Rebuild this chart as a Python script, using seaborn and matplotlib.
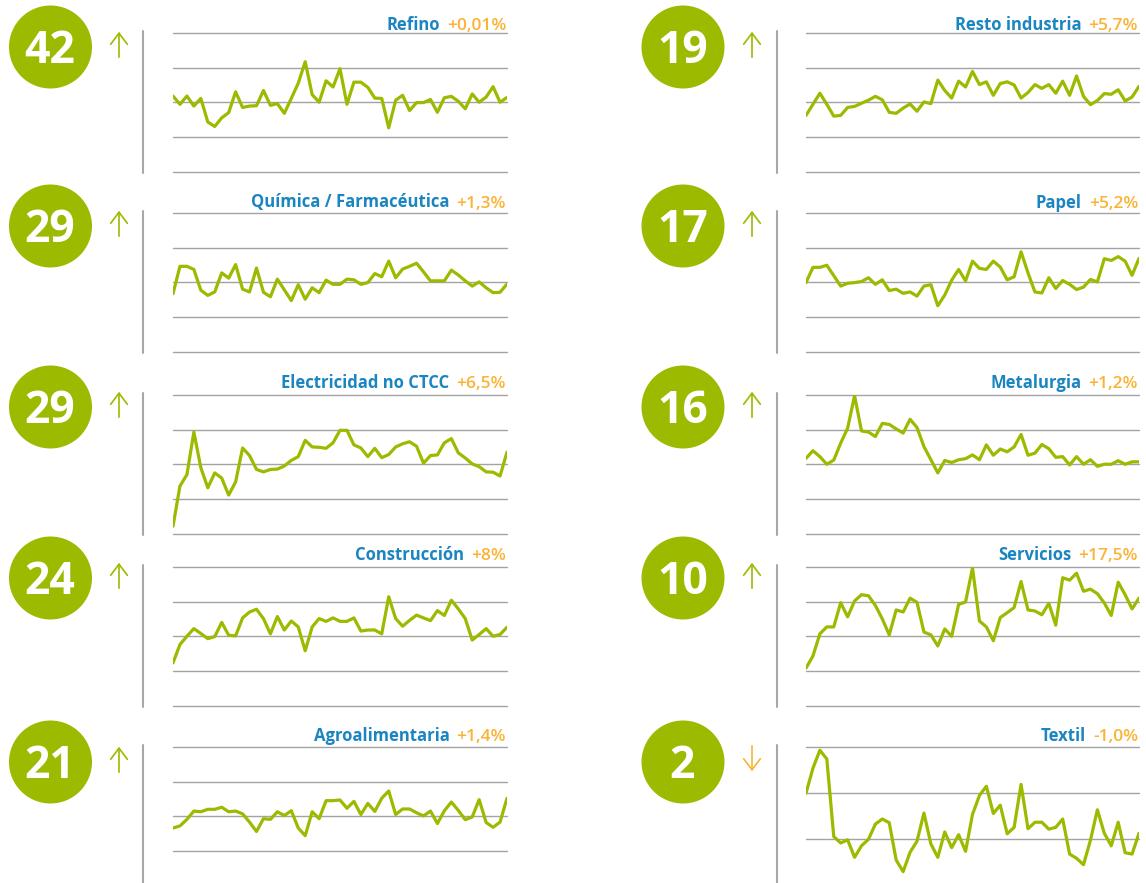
import numpy as np
import pandas as pd
import matplotlib.pyplot as plt
import matplotlib.patheffects as pe
from matplotlib import font_manager
from matplotlib.patches import Circle, FancyArrowPatch
import seaborn as sns

# sectores (columna izquierda y luego derecha)
sectores = ['Refino', 'Química / Farmacéutica', 'Electricidad no CTCC', 'Construcción',
            'Agroalimentaria', 'Resto industria', 'Papel', 'Metalurgia', 'Servicios', 'Textil']
variacion = ['+0,01%', '+1,3%', '+6,5%', '+8%', '+1,4%',
             '+5,7%', '+5,2%', '+1,2%', '+17,5%', '-1,0%']
numero = [42, 29, 29, 24, 21, 19, 17, 16, 10, 2]
tendencia = ['sube', 'sube', 'sube', 'sube', 'sube', 'sube', 'sube', 'sube', 'sube', 'baja']
n_lineas = [4, 4, 4, 4, 4, 4, 4, 4, 4, 3]

# series mensuales (en unidades de la rejilla)
refino = [2.18, 1.94, 2.18, 1.89, 2.11, 1.43, 1.30, 1.55, 1.70, 2.30, 1.85, 1.89, 1.90, 2.34, 1.91, 1.96, 1.68,
          2.11, 2.55, 3.17, 2.22, 2.00, 2.62, 2.44, 2.97, 1.94, 2.58, 2.58, 2.43, 2.12, 2.11, 1.26, 2.06, 2.20,
          1.76, 1.99, 1.99, 2.08, 1.71, 2.13, 2.17, 2.03, 1.81, 2.24, 2.00, 2.15, 2.45, 2.00, 2.14]
quimica = [1.67, 2.46, 2.46, 2.37, 1.77, 1.62, 1.72, 2.27, 2.12, 2.51, 1.80, 1.72, 2.41, 1.71, 1.58, 2.09, 1.78,
           1.47, 1.93, 1.51, 1.84, 1.70, 2.06, 1.94, 1.94, 2.09, 2.07, 1.94, 1.99, 2.25, 2.16, 2.61, 2.13, 2.38,
           2.46, 2.55, 2.30, 2.04, 2.04, 2.04, 2.35, 2.21, 2.04, 1.89, 2.01, 1.84, 1.70, 1.71, 1.95]
electricidad = [0.21, 1.37, 1.70, 2.93, 1.90, 1.32, 1.75, 1.60, 1.11, 1.49, 2.47, 2.25, 1.85, 1.78, 1.85, 1.86,
                1.95, 2.11, 2.22, 2.69, 2.50, 2.49, 2.46, 2.62, 2.98, 2.98, 2.56, 2.47, 2.22, 2.46, 2.19, 2.28,
                2.50, 2.59, 2.65, 2.52, 2.03, 2.25, 2.27, 2.62, 2.74, 2.33, 2.18, 2.01, 1.93, 1.78, 1.77, 1.66, 2.35]
construccion = [1.23, 1.76, 2.00, 2.22, 2.08, 1.93, 1.99, 2.40, 2.03, 2.01, 2.53, 2.70, 2.78, 2.51, 2.07, 2.57,
                2.18, 2.44, 2.27, 1.58, 2.27, 2.51, 2.43, 2.53, 2.43, 2.43, 2.53, 2.15, 2.18, 2.18, 2.07, 3.14,
                2.51, 2.29, 2.46, 2.61, 2.53, 2.45, 2.74, 2.60, 3.04, 2.79, 2.51, 1.89, 2.05, 2.22, 2.00, 2.05, 2.26]
agro = [1.66, 1.72, 1.91, 2.15, 2.13, 2.20, 2.20, 2.26, 2.13, 2.15, 2.07, 1.83, 1.56, 1.93, 1.91, 2.13, 2.02,
        2.16, 1.66, 1.44, 2.13, 1.93, 2.45, 2.45, 2.47, 2.23, 2.43, 2.05, 2.37, 2.14, 2.52, 2.73, 2.05, 2.21,
        2.21, 2.10, 2.01, 2.15, 1.79, 2.16, 2.41, 2.17, 1.90, 1.98, 2.48, 1.82, 1.68, 1.83, 2.52]
resto = [1.62, 1.94, 2.26, 1.94, 1.60, 1.62, 1.85, 1.88, 1.97, 2.06, 2.17, 2.07, 1.71, 1.68, 1.83, 1.95, 1.74,
         2.01, 1.96, 2.64, 2.34, 2.12, 2.61, 2.44, 2.89, 2.51, 2.59, 2.20, 2.54, 2.59, 2.50, 2.12, 2.28, 2.51,
         2.40, 2.51, 2.26, 2.61, 2.20, 2.76, 2.17, 1.93, 2.05, 2.25, 2.23, 2.36, 2.04, 2.15, 2.46]
papel = [1.99, 2.43, 2.43, 2.49, 2.19, 1.89, 1.97, 1.99, 2.02, 2.13, 1.94, 2.07, 1.76, 1.80, 1.68, 1.72, 1.60,
         1.89, 1.93, 1.32, 1.63, 2.06, 2.37, 2.04, 2.61, 2.40, 2.37, 2.61, 2.44, 2.07, 2.16, 2.88, 2.27, 1.72,
         1.69, 2.13, 1.82, 2.05, 1.94, 1.79, 1.86, 2.08, 2.01, 2.68, 2.63, 2.74, 2.61, 2.20, 2.69]
metalurgia = [2.17, 2.39, 2.22, 2.00, 2.12, 2.61, 3.04, 3.98, 2.96, 2.93, 2.80, 3.18, 3.15, 3.02, 2.90, 3.30,
              3.06, 2.51, 2.13, 1.75, 2.11, 2.05, 2.13, 2.16, 2.27, 2.13, 2.56, 2.26, 2.44, 2.36, 2.50, 2.86,
              2.26, 2.32, 2.57, 2.45, 2.20, 2.22, 1.98, 2.22, 2.00, 2.13, 1.94, 2.00, 2.00, 2.10, 2.00, 2.07, 2.07]
servicios = [1.08, 1.43, 2.07, 2.27, 2.27, 2.97, 2.56, 3.02, 3.20, 3.17, 2.89, 2.50, 2.04, 2.76, 2.70, 3.10,
             2.98, 2.12, 2.04, 1.72, 2.21, 2.00, 2.92, 2.99, 3.97, 2.44, 2.27, 1.87, 2.54, 2.68, 2.83, 3.58,
             2.76, 2.73, 2.62, 2.95, 2.32, 3.69, 3.62, 3.82, 3.30, 3.36, 3.23, 2.96, 2.60, 3.56, 3.20, 2.79, 3.10]
textil = [2.00, 2.54, 2.93, 2.74, 1.06, 0.92, 0.99, 0.61, 0.86, 1.00, 1.33, 1.44, 1.36, 0.55, 0.30, 0.72, 0.96,
          1.57, 0.90, 0.61, 1.16, 0.82, 1.10, 0.74, 1.54, 1.95, 2.15, 1.56, 1.74, 1.12, 1.26, 2.19, 1.23, 1.37,
          1.37, 1.22, 1.26, 1.44, 0.68, 0.59, 0.45, 0.98, 1.64, 1.13, 0.86, 1.37, 0.71, 0.68, 1.13]

series = [refino, quimica, electricidad, construccion, agro, resto, papel, metalurgia, servicios, textil]

verde = '#9cba00'
azul = '#1a85c0'
naranja = '#fbb335'
gris = '#a3a3a3'

sns.set_style('white')
plt.rcParams['font.family'] = ['Open Sans', 'DejaVu Sans']

# fuente seminegrita para los porcentajes si existe; si no, se engrosa con un trazo
pct_fam, pct_peso, pct_trazo = ['Open Sans', 'DejaVu Sans'], 'normal', 0.7
for fam in ['Open Sans', 'Noto Sans']:
    if any(f.name == fam and f.weight in (600, 'semibold', 'demibold') for f in font_manager.fontManager.ttflist):
        pct_fam, pct_peso, pct_trazo = [fam, 'DejaVu Sans'], 600, 0
        break

W, H = 1146, 883
fig = plt.figure(figsize=(W / 100, H / 100), dpi=100)
bg = fig.add_axes([0, 0, 1, 1])
bg.set_xlim(0, W)
bg.set_ylim(H, 0)
bg.axis('off')

columnas = [dict(cx=50.5, flecha=119, eje=143, x0=173, x1=507),
            dict(cx=683, flecha=752, eje=777, x0=806, x1=1139)]
fila_top = [33, 213, 395, 567, 747]
fila_circ = [47, 226, 407, 578, 762]
fila_tit = [29.5, 207.5, 388, 560, 741]
alto = 138.5

textos = []
for i, nombre in enumerate(sectores):
    col = columnas[i // 5]
    fila = i % 5
    top = fila_top[fila]
    cy = fila_circ[fila]

    # circulo con el numero
    bg.add_patch(Circle((col['cx'], cy), 41.5, color=verde, lw=0))
    bg.text(col['cx'] - 0.5, cy + 16, str(numero[i]), color='white', fontsize=32,
            fontweight='bold', ha='center', va='baseline')

    # flecha de tendencia
    if tendencia[i] == 'sube':
        a, b, c = cy + 13, cy - 18, verde
    else:
        a, b, c = cy - 19, cy + 12, naranja
    bg.add_patch(FancyArrowPatch((col['flecha'], a), (col['flecha'], b),
                                 arrowstyle='->,head_length=0.8,head_width=0.6',
                                 mutation_scale=10, color=c, lw=1.2))

    # eje vertical
    bg.plot([col['eje'], col['eje']], [top - 2, min(top + 140, H)], color='#a8a8a8', lw=1.5)

    # grafico de la serie
    n = n_lineas[i]
    ax = fig.add_axes([col['x0'] / W, 1 - (top + alto) / H, (col['x1'] - col['x0']) / W, alto / H])
    df = pd.DataFrame({'mes': np.arange(len(series[i])), 'valor': series[i]})
    sns.lineplot(data=df, x='mes', y='valor', ax=ax, color=verde, linewidth=2.3)
    ax.set_xlim(0, len(series[i]) - 1)
    ax.set_ylim(0, n)
    ax.set_yticks(range(n + 1))
    ax.set_xticks([])
    ax.yaxis.grid(True, color=gris, lw=1.0)
    for g in ax.get_ygridlines():
        g.set_clip_on(False)
    ax.set_axisbelow(True)
    ax.tick_params(left=False, labelleft=False)
    ax.set_xlabel('')
    ax.set_ylabel('')
    ax.patch.set_alpha(0)
    for s in ax.spines.values():
        s.set_visible(False)

    # titulo
    pct = bg.text(col['x1'] - 1, fila_tit[fila], variacion[i], color=naranja, fontsize=12.5,
                  family=pct_fam, fontweight=pct_peso, ha='right', va='baseline')
    if pct_trazo:
        pct.set_path_effects([pe.withStroke(linewidth=pct_trazo, foreground=naranja)])
    textos.append((pct, nombre, fila_tit[fila]))

renderer = fig.canvas.get_renderer()
for pct, nombre, ty in textos:
    bb = pct.get_window_extent(renderer)
    xizq = bg.transData.inverted().transform((bb.x0, bb.y0))[0]
    bg.text(xizq - 7, ty, nombre, color=azul, fontsize=12, fontweight='bold',
            ha='right', va='baseline')

fig.savefig('out.png', dpi=100)
